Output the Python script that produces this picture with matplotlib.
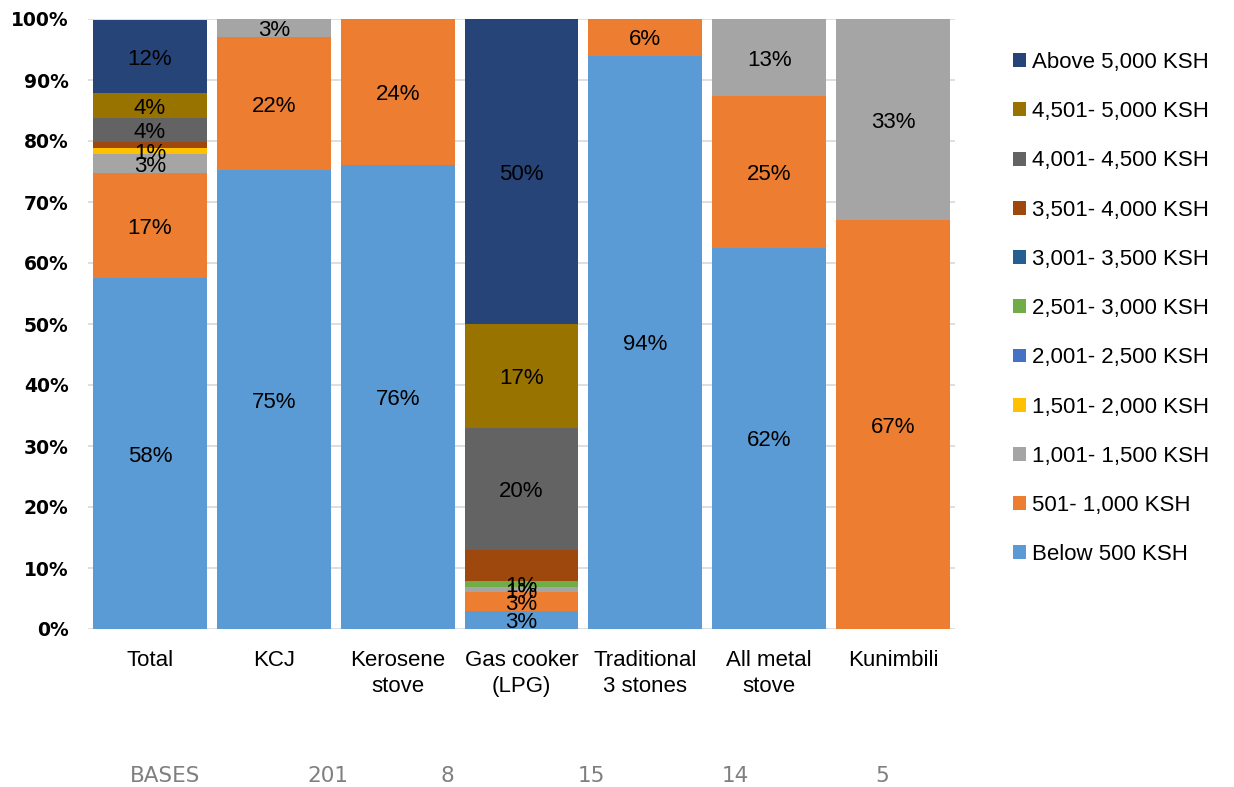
import numpy as np
from matplotlib import pyplot as plt
from matplotlib.patches import Patch

categories = ['Total', 'KCJ', 'Kerosene\nstove', 'Gas cooker\n(LPG)',
              'Traditional\n3 stones', 'All metal\nstove', 'Kunimbili']

series_names = ['Below 500 KSH', '501- 1,000 KSH', '1,001- 1,500 KSH', '1,501- 2,000 KSH',
                '2,001- 2,500 KSH', '2,501- 3,000 KSH', '3,001- 3,500 KSH', '3,501- 4,000 KSH',
                '4,001- 4,500 KSH', '4,501- 5,000 KSH', 'Above 5,000 KSH']

below_500 = [57.5, 75.2, 76.0, 3.0, 94.0, 62.5, 0]
ksh_501_1000 = [17.2, 21.8, 24.0, 3.0, 6.0, 24.8, 67.0]
ksh_1001_1500 = [3.1, 3.0, 0, 0.9, 0, 12.7, 33.0]
ksh_1501_2000 = [1.0, 0, 0, 0, 0, 0, 0]
ksh_2001_2500 = [0, 0, 0, 0, 0, 0, 0]
ksh_2501_3000 = [0, 0, 0, 1.0, 0, 0, 0]
ksh_3001_3500 = [0, 0, 0, 0, 0, 0, 0]
ksh_3501_4000 = [1.0, 0, 0, 5.1, 0, 0, 0]
ksh_4001_4500 = [3.9, 0, 0, 20.0, 0, 0, 0]
ksh_4501_5000 = [4.1, 0, 0, 17.0, 0, 0, 0]
above_5000 = [12.0, 0, 0, 50.0, 0, 0, 0]

bases = ['BASES', '201', '8', '15', '14', '5']
bases_x = [165, 328, 447, 591, 735, 882]   # pixel centres in the original layout

colors = ['#5B9BD5', '#ED7D31', '#A5A5A5', '#FFC000', '#4472C4', '#70AD47',
          '#255E91', '#9E480E', '#636363', '#997300', '#264478']

data = [below_500, ksh_501_1000, ksh_1001_1500, ksh_1501_2000, ksh_2001_2500,
        ksh_2501_3000, ksh_3001_3500, ksh_3501_4000, ksh_4001_4500, ksh_4501_5000, above_5000]
no_labels = {'3,501- 4,000 KSH'}

W, H = 1234, 787
fig = plt.figure(figsize=(W / 100, H / 100), dpi=100)
ax = fig.add_axes([88 / W, 1 - 629 / H, (955 - 88) / W, (629 - 19) / H])

x = np.arange(len(categories))
bottom = np.zeros(len(categories))
for name, vals, col in zip(series_names, data, colors):
    vals = np.array(vals, dtype=float)
    ax.bar(x, vals, width=0.92, bottom=bottom, color=col, zorder=2)
    if name not in no_labels:
        for xi, v, b in zip(x, vals, bottom):
            if v > 0:
                ax.text(xi, b + v / 2, f'{round(v)}%', ha='center', va='center_baseline',
                        fontsize=16, family='Liberation Sans', color='black', zorder=3)
    bottom += vals

ax.set_xlim(-0.5, len(categories) - 0.5)
ax.set_ylim(0, 100)
ax.set_yticks(np.arange(0, 101, 10))
ax.set_yticklabels([f'{t}%' for t in range(0, 101, 10)], fontsize=13.5,
                   fontweight='bold', family='DejaVu Sans')
ax.yaxis.grid(True, color='#D9D9D9', linewidth=1.2, zorder=0)
ax.set_axisbelow(True)
ax.tick_params(axis='y', length=0, pad=14)
ax.tick_params(axis='x', length=0, pad=15)
ax.set_xticks(x)
ax.set_xticklabels(categories, fontsize=16, family='Liberation Sans', linespacing=1.3, va='top')
for s in ax.spines.values():
    s.set_visible(False)

for txt, px in zip(bases, bases_x):
    fig.text(px / W, 1 - 776 / H, txt, ha='center', va='center', fontsize=15.5,
             color='#7F7F7F', family=['Liberation Sans Narrow', 'DejaVu Sans'])

handles = [Patch(facecolor=c, label=n) for c, n in zip(colors, series_names)][::-1]
fig.legend(handles=handles, loc='upper left', bbox_to_anchor=(1013 / W, 1 - 52 / H),
           frameon=False, prop={'family': 'Liberation Sans', 'size': 16},
           handlelength=0.59, handleheight=0.59, handletextpad=0.25, labelspacing=1.27,
           borderaxespad=0, borderpad=0)

fig.savefig('out.png', dpi=100)
